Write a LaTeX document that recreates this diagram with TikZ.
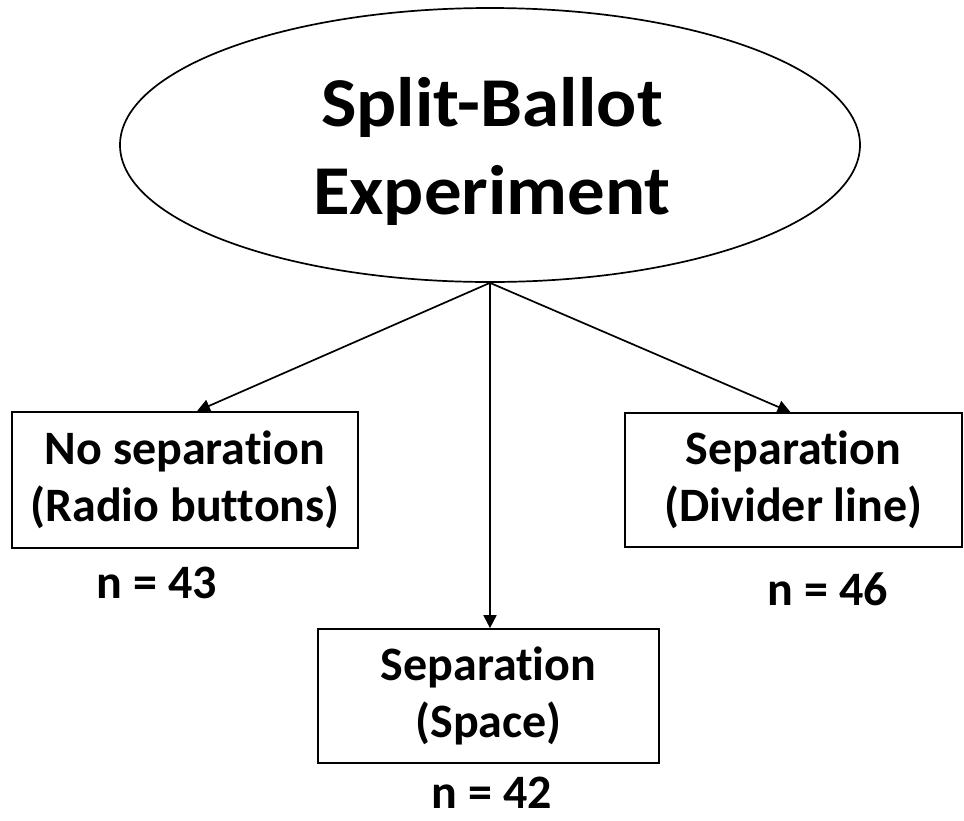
\documentclass[tikz,border=0pt]{standalone}
\usepackage{fontspec}
\setmainfont{Carlito}[Ligatures=NoCommon]
\newfontfamily\bigfont{Carlito}[Ligatures=NoCommon,FakeStretch=1.07]
\usetikzlibrary{shapes.geometric,arrows.meta}
\begin{document}
\begin{tikzpicture}[x=1pt,y=-1pt,
  every node/.style={font=\bfseries},
  conn/.style={line width=1.7pt,-{Triangle[length=13pt,width=13pt]}},
  boxnode/.style={draw,line width=1.7pt,rectangle,inner sep=0pt,align=center,font=\fontsize{48}{57}\bfseries\selectfont},
  nlabel/.style={font=\fontsize{48}{57}\bfseries\selectfont,inner sep=0pt}]
\useasboundingbox (0,0) rectangle (964,820);
\node[draw,ellipse,line width=1.7pt,minimum width=740pt,minimum height=274pt,inner sep=0pt] (top) at (490,145) {};
\node[align=center,inner sep=0pt,font=\bigfont\fontsize{70}{88}\bfseries\selectfont] (toptext) at (492,151) {Split-Ballot\\Experiment};
\node[boxnode,minimum width=346pt,minimum height=136pt] (b1) at (185,480) {No separation\\(Radio buttons)};
\node[boxnode,minimum width=341pt,minimum height=134pt] (b2) at (488.5,696) {Separation\\(Space)};
\node[boxnode,minimum width=337pt,minimum height=134pt] (b3) at (793.5,480) {Separation\\(Divider line)};
\node[nlabel] (n1) at (157,583) {n = 43};
\node[nlabel,anchor=base] (n2) at (492,808) {n = 42};
\node[nlabel] (n3) at (828,589) {n = 46};
\coordinate (apex) at (top.south);
\draw[conn] (apex) -- ([xshift=12pt]b1.north);
\draw[conn] (apex) -- (apex |- b2.north);
\draw[conn] (apex) -- ([xshift=-3pt]b3.north);
\end{tikzpicture}
\end{document}
